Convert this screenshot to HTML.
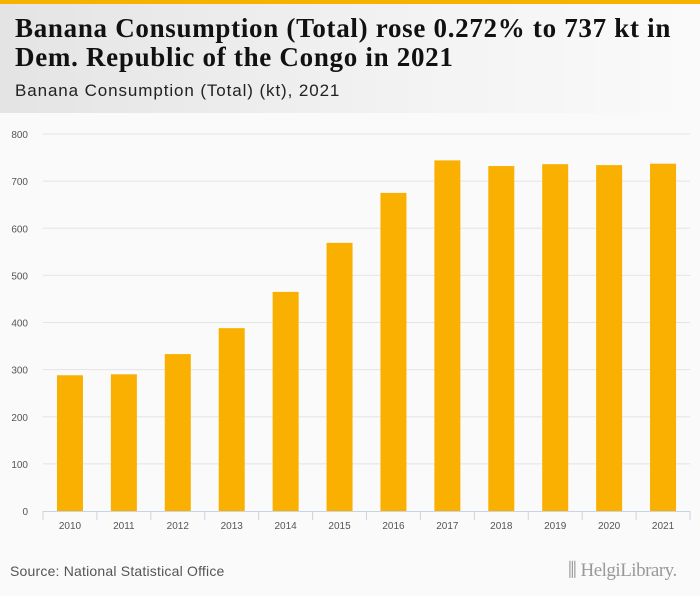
<!DOCTYPE html>
<html><head><meta charset="utf-8"><style>
body{margin:0;width:700px;height:596px;background:#fafafa;font-family:"Liberation Sans",sans-serif;overflow:hidden;position:relative}
#topbar{position:absolute;left:0;top:0;width:700px;height:4px;background:#f7b200}
#header{position:absolute;left:0;top:4px;width:700px;height:109px;background:linear-gradient(90deg,#e4e4e4,#f3f3f3 60%,#fafafa)}
#title{position:absolute;left:15px;top:14px;font-family:"Liberation Serif",serif;font-weight:bold;font-size:27px;line-height:29px;color:#111;letter-spacing:0.7px;white-space:nowrap}
#subtitle{position:absolute;left:15px;top:81px;font-size:17px;color:#222;letter-spacing:0.9px}
#source{position:absolute;left:10px;top:563px;font-size:14px;color:#555;letter-spacing:0.2px}
#logo{position:absolute;left:568px;top:560px;font-family:"Liberation Serif",serif;font-size:19px;color:#999;letter-spacing:-0.5px}
svg{position:absolute;left:0;top:0}
</style></head><body>
<div id="topbar"></div>
<div id="header"></div>
<div id="title">Banana Consumption (Total) rose 0.272% to 737 kt in<br>Dem. Republic of the Congo in 2021</div>
<div id="subtitle">Banana Consumption (Total) (kt), 2021</div>
<svg id="chart" width="700" height="596"></svg>
<div id="source">Source: National Statistical Office</div>
<div id="logo">⫼ Helgi<span style="font-weight:normal">Library.</span></div>
<script>
const categories=["2010","2011","2012","2013","2014","2015","2016","2017","2018","2019","2020","2021"];
const values=[288,290,333,388,465,569,675,744,732,736,734,737];
const yTicks=[0,100,200,300,400,500,600,700,800];
const ns="http://www.w3.org/2000/svg";
const svg=document.getElementById('chart');
const x0=43,x1=690,yBase=511,yTop=134,yMax=800;
const band=(x1-x0)/categories.length;
const y=v=>yBase-(v/yMax)*(yBase-yTop);
const xc=i=>x0+band*(i+0.5);
function mk(t,a){const e=document.createElementNS(ns,t);for(const k in a)e.setAttribute(k,a[k]);svg.appendChild(e);return e;}
yTicks.forEach(t=>{
 if(t>0){const g=mk('line',{x1:x0,x2:x1,y1:y(t),y2:y(t),stroke:'#e4e4e4','stroke-width':1});
 
 }
 const l=mk('text',{x:28,y:y(t)+4,'text-anchor':'end','font-size':10,fill:'#555','font-family':'Liberation Sans, sans-serif'});
 l.textContent=t;
 
 
});
categories.forEach((c,i)=>{
 const b=mk('rect',{x:xc(i)-13,y:y(values[i]),width:26,height:yBase-y(values[i]),fill:'#f9b000'});
 
 
 const tk=mk('line',{x1:x0+band*i,x2:x0+band*i,y1:yBase,y2:yBase+9,stroke:'#c9d3e6'});
 
 
 const l=mk('text',{x:xc(i),y:yBase+18,'text-anchor':'middle','font-size':10,fill:'#555','font-family':'Liberation Sans, sans-serif'});
 l.textContent=c;
 
 
});
const te=mk('line',{x1:x1,x2:x1,y1:yBase,y2:yBase+9,stroke:'#c9d3e6'});


const ax=mk('line',{x1:x0,x2:x1,y1:yBase+0.5,y2:yBase+0.5,stroke:'#c9d3e6'});


</script>
</body></html>
